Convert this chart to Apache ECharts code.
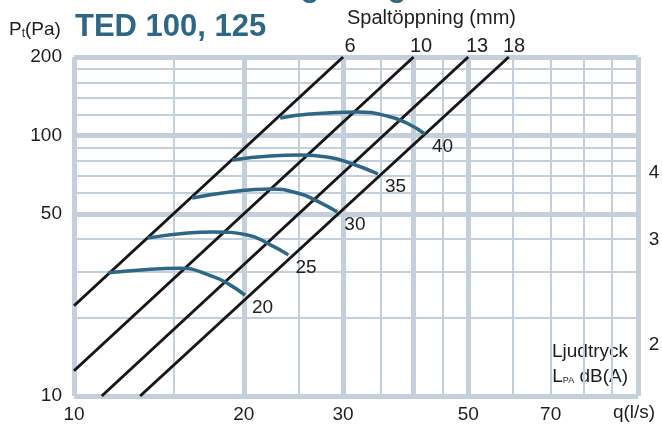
<!DOCTYPE html>
<html><head><meta charset="utf-8">
<script src="https://cdn.jsdelivr.net/npm/echarts@6/dist/echarts.min.js"></script>
<style>html,body{margin:0;padding:0;background:#fff}#c{width:662px;height:426px}</style>
</head><body><div id="c"></div>
<script>
// ---- data ----
const xMajor = [20, 30, 40, 50];
const xMinor = [15, 25, 35, 45, 60, 70, 80, 90];
const xEdges = [10, 100];
const yMajor = [50, 100];
const yMinor = [20, 30, 40, 60, 70, 80, 90, 120, 140, 160, 180];
const yEdges = [10, 200];
const xTickLabels = [10, 20, 30, 50, 70];
const yTickLabels = [10, 50, 100, 200];

// gap opening lines (mm) – end points
const gapNames = ['6', '10', '13', '18'];
const gap6  = [[10, 22.2], [30, 200]];
const gap10 = [[10, 12.5], [40, 200]];
const gap13 = [[11.2, 10], [50, 200]];
const gap18 = [[13.1, 10], [59, 200]];

// sound level curves dB(A)
const curveNames = ['20', '25', '30', '35', '40'];
const db20 = [[11.5,29.7],[13.5,30.6],[15.4,30.9],[17.6,28.8],[18.9,26.7],[20.1,24.4]];
const db25 = [[13.5,40.4],[15.9,42.2],[17.6,42.6],[20.3,41.5],[22.3,38.0],[24.0,34.8]];
const db30 = [[16.2,57.5],[18.9,60.7],[22.3,62.3],[24.9,60.1],[27.0,56.0],[29.3,50.8]];
const db35 = [[19.1,80.5],[22.3,83.4],[25.2,84.1],[28.1,82.7],[31.2,77.7],[34.6,71.1]];
const db40 = [[23.2,116.7],[26.2,120.9],[31.8,123.0],[35.9,118.8],[38.9,111.6],[41.9,101.3]];

// ---- style ----
const GRID = '#c3d0dc';
const BLUE = '#2e6786';
const TXT = '#1e1e1e';
const FONT = '"Liberation Sans", Arial, sans-serif';
const FS = 19;

const chart = echarts.init(document.getElementById('c'), null, {renderer: 'canvas'});

const gridLines = [];
const lblX = {show: true, position: 'start', distance: 9, color: TXT, fontSize: FS, fontFamily: FONT};
const lblY = {show: true, position: 'start', distance: 12, color: TXT, fontSize: FS, fontFamily: FONT};
function addX(v, w) {
  const it = {xAxis: v, lineStyle: {width: w, color: GRID, type: 'solid'}, label: {show: false}};
  if (xTickLabels.includes(v)) it.label = Object.assign({formatter: String(v)}, lblX);
  gridLines.push(it);
}
function addY(v, w) {
  const it = {yAxis: v, lineStyle: {width: w, color: GRID, type: 'solid'}, label: {show: false}};
  if (yTickLabels.includes(v)) it.label = Object.assign({formatter: String(v)}, lblY);
  gridLines.push(it);
}
xMinor.forEach(v => addX(v, 2));
yMinor.forEach(v => addY(v, 2));
xMajor.forEach(v => addX(v, 5));
yMajor.forEach(v => addY(v, 5));
xEdges.forEach(v => addX(v, 5));
yEdges.forEach(v => addY(v, 5));

const gaps = [gap6, gap10, gap13, gap18];
const curves = [db20, db25, db30, db35, db40];

const series = [{
  type: 'line', data: [], z: 1, silent: true,
  markLine: {silent: true, z: 1, symbol: ['none', 'none'], animation: false, data: gridLines}
}];
gaps.forEach((g, i) => series.push({
  type: 'line', name: gapNames[i], data: g, showSymbol: false, z: 3,
  lineStyle: {color: '#161616', width: 3}, animation: false
}));
curves.forEach((c, i) => series.push({
  type: 'line', name: curveNames[i], data: c, showSymbol: false, smooth: 0.5, z: 4,
  lineStyle: {color: BLUE, width: 3.5}, animation: false,
  endLabel: {show: true, formatter: curveNames[i], color: TXT, fontSize: FS, fontFamily: FONT, distance: 0, offset: [7, 13]}
}));

chart.setOption({
  animation: false,
  grid: {left: 74, right: 24, top: 57, bottom: 30},
  xAxis: {type: 'log', logBase: 10, min: 10, max: 100,
    axisLine: {show: false}, axisTick: {show: false}, axisLabel: {show: false}, splitLine: {show: false}},
  yAxis: {type: 'log', logBase: 10, min: 10, max: 200,
    axisLine: {show: false}, axisTick: {show: false}, axisLabel: {show: false}, splitLine: {show: false}},
  series: series,
  graphic: [
    {type: 'text', x: 310, y: 3, style: {text: 'g', fill: BLUE, font: 'bold 31px ' + FONT, align: 'center', verticalAlign: 'bottom'}},
    {type: 'text', x: 397, y: 3, style: {text: 'g', fill: BLUE, font: 'bold 31px ' + FONT, align: 'center', verticalAlign: 'bottom'}},
    {type: 'text', left: 75, top: 12, style: {text: 'TED 100, 125', fill: BLUE, font: 'bold 31px ' + FONT}},
    {type: 'text', left: 9, top: 20, style: {
      rich: {
        p: {fontSize: FS, fontFamily: FONT, fill: TXT},
        s: {fontSize: 12, fontFamily: FONT, fill: TXT, padding: [9, 0, 0, 0]}
      },
      text: '{p|P}{s|t}{p|(Pa)}'}},
    {type: 'text', left: 347, top: 8, style: {text: 'Spaltöppning (mm)', fill: TXT, font: '20px ' + FONT}},
    {type: 'text', x: 350, y: 46, style: {text: '6', fill: TXT, font: '20px ' + FONT, align: 'center', verticalAlign: 'middle'}},
    {type: 'text', x: 421, y: 46, style: {text: '10', fill: TXT, font: '20px ' + FONT, align: 'center', verticalAlign: 'middle'}},
    {type: 'text', x: 477, y: 46, style: {text: '13', fill: TXT, font: '20px ' + FONT, align: 'center', verticalAlign: 'middle'}},
    {type: 'text', x: 514, y: 46, style: {text: '18', fill: TXT, font: '20px ' + FONT, align: 'center', verticalAlign: 'middle'}},
    {type: 'text', x: 634, y: 413, style: {text: 'q(l/s)', fill: TXT, font: FS + 'px ' + FONT, align: 'center', verticalAlign: 'middle'}},
    {type: 'text', x: 654, y: 173, style: {text: '4', fill: TXT, font: FS + 'px ' + FONT, align: 'center', verticalAlign: 'middle'}},
    {type: 'text', x: 654, y: 240, style: {text: '3', fill: TXT, font: FS + 'px ' + FONT, align: 'center', verticalAlign: 'middle'}},
    {type: 'text', x: 654, y: 345, style: {text: '2', fill: TXT, font: FS + 'px ' + FONT, align: 'center', verticalAlign: 'middle'}},
    {type: 'text', x: 628, y: 352, style: {text: 'Ljudtryck', fill: TXT, font: FS + 'px ' + FONT, align: 'right', verticalAlign: 'middle'}},
    {type: 'text', x: 628, y: 377, style: {
      align: 'right', verticalAlign: 'middle',
      rich: {
        p: {fontSize: FS, fontFamily: FONT, fill: TXT},
        s: {fontSize: 9, fontFamily: FONT, fill: TXT, padding: [8, 0, 0, 0]}
      },
      text: '{p|L}{s|PA}{p| dB(A)}'}}
  ]
});
</script></body></html>
